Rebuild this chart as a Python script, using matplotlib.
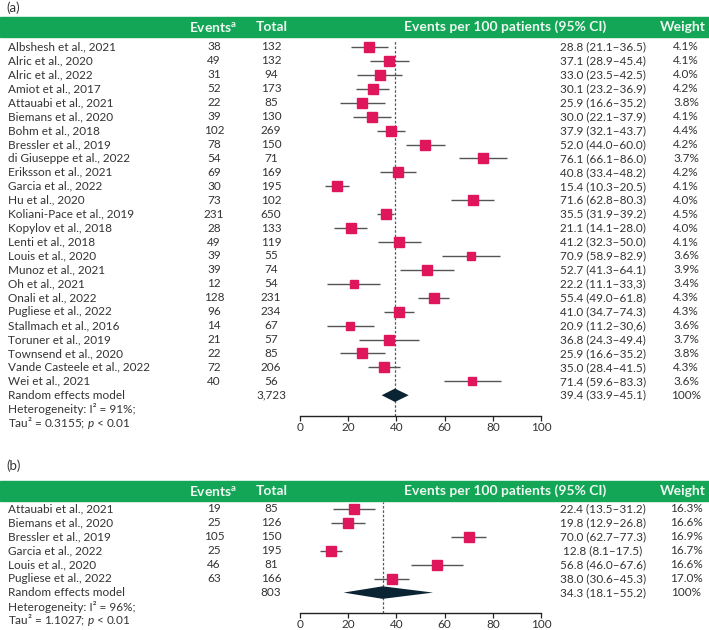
import matplotlib
matplotlib.use("Agg")
import matplotlib.pyplot as plt
import matplotlib.transforms as mtransforms
from matplotlib.patches import Rectangle
import numpy as np

plt.rcParams['font.family'] = ['Lato', 'DejaVu Sans']
plt.rcParams['mathtext.fontset'] = 'custom'
plt.rcParams['mathtext.rm'] = 'Lato'
plt.rcParams['mathtext.it'] = 'Lato:italic'
plt.rcParams['mathtext.bf'] = 'Lato:bold'

# ---- panel (a) data ----
studies_a = ["Albshesh et al., 2021", "Alric et al., 2020", "Alric et al., 2022",
             "Amiot et al., 2017", "Attauabi et al., 2021", "Biemans et al., 2020",
             "Bohm et al., 2018", "Bressler et al., 2019", "di Giuseppe et al., 2022",
             "Eriksson et al., 2021", "Garcia et al., 2022", "Hu et al., 2020",
             "Koliani-Pace et al., 2019", "Kopylov et al., 2018", "Lenti et al., 2018",
             "Louis et al., 2020", "Munoz et al., 2021", "Oh et al., 2021",
             "Onali et al., 2022", "Pugliese et al., 2022", "Stallmach et al., 2016",
             "Toruner et al., 2019", "Townsend et al., 2020", "Vande Casteele et al., 2022",
             "Wei et al., 2021"]
events_a = [38, 49, 31, 52, 22, 39, 102, 78, 54, 69, 30, 73, 231, 28, 49, 39, 39, 12,
            128, 96, 14, 21, 22, 72, 40]
total_a = [132, 132, 94, 173, 85, 130, 269, 150, 71, 169, 195, 102, 650, 133, 119, 55,
           74, 54, 231, 234, 67, 57, 85, 206, 56]
est_a = [28.8, 37.1, 33.0, 30.1, 25.9, 30.0, 37.9, 52.0, 76.1, 40.8, 15.4, 71.6, 35.5,
         21.1, 41.2, 70.9, 52.7, 22.2, 55.4, 41.0, 20.9, 36.8, 25.9, 35.0, 71.4]
lo_a = [21.1, 28.9, 23.5, 23.2, 16.6, 22.1, 32.1, 44.0, 66.1, 33.4, 10.3, 62.8, 31.9,
        14.1, 32.3, 58.9, 41.3, 11.1, 49.0, 34.7, 11.2, 24.3, 16.6, 28.4, 59.6]
hi_a = [36.5, 45.4, 42.5, 36.9, 35.2, 37.9, 43.7, 60.0, 86.0, 48.2, 20.5, 80.3, 39.2,
        28.0, 50.0, 82.9, 64.1, 33.3, 61.8, 47.3, 30.6, 49.4, 35.2, 41.5, 83.3]
ci_text_a = ["28.8 (21.1–36.5)", "37.1 (28.9–45.4)", "33.0 (23.5–42.5)", "30.1 (23.2–36.9)",
             "25.9 (16.6–35.2)", "30.0 (22.1–37.9)", "37.9 (32.1–43.7)", "52.0 (44.0–60.0)",
             "76.1 (66.1–86.0)", "40.8 (33.4–48.2)", "15.4 (10.3–20.5)", "71.6 (62.8–80.3)",
             "35.5 (31.9–39.2)", "21.1 (14.1–28.0)", "41.2 (32.3–50.0)", "70.9 (58.9–82.9)",
             "52.7 (41.3–64.1)", "22.2 (11.1–33,3)", "55.4 (49.0–61.8)", "41.0 (34.7–74.3)",
             "20.9 (11.2–30,6)", "36.8 (24.3–49.4)", "25.9 (16.6–35.2)", "35.0 (28.4–41.5)",
             "71.4 (59.6–83.3)"]
weight_a = [4.1, 4.1, 4.0, 4.2, 3.8, 4.1, 4.4, 4.2, 3.7, 4.2, 4.1, 4.0, 4.5, 4.0, 4.1,
            3.6, 3.9, 3.4, 4.3, 4.3, 3.6, 3.7, 3.8, 4.3, 3.6]
pooled_a = (39.4, 33.9, 45.1)
pooled_total_a = "3,723"
pooled_text_a = "39.4 (33.9–45.1)"
het_a = ["Heterogeneity: I² = 91%;", "Tau² = 0.3155; $p$ < 0.01"]

# ---- panel (b) data ----
studies_b = ["Attauabi et al., 2021", "Biemans et al., 2020", "Bressler et al., 2019",
             "Garcia et al., 2022", "Louis et al., 2020", "Pugliese et al., 2022"]
events_b = [19, 25, 105, 25, 46, 63]
total_b = [85, 126, 150, 195, 81, 166]
est_b = [22.4, 19.8, 70.0, 12.8, 56.8, 38.0]
lo_b = [13.5, 12.9, 62.7, 8.1, 46.0, 30.6]
hi_b = [31.2, 26.8, 77.3, 17.5, 67.6, 45.3]
ci_text_b = ["22.4 (13.5–31.2)", "19.8 (12.9–26.8)", "70.0 (62.7–77.3)",
             "12.8 (8.1–17.5)", "56.8 (46.0–67.6)", "38.0 (30.6–45.3)"]
weight_b = [16.3, 16.6, 16.9, 16.7, 16.6, 17.0]
pooled_b = (34.3, 18.1, 55.2)
pooled_total_b = "803"
pooled_text_b = "34.3 (18.1–55.2)"
het_b = ["Heterogeneity: I² = 96%;", "Tau² = 1.1027; $p$ < 0.01"]

ticks = [0, 20, 40, 60, 80, 100]

W, H = 709, 630
GREEN = '#12a656'
PINK = '#e0165c'
NAVY = '#0b2433'
TXT = '#333333'
FS = 8.5

fig = plt.figure(figsize=(W / 100, H / 100), dpi=100)


def fx(px):
    return px / W


def fy(py):
    return 1 - py / H


def panel(label, label_y, bar_top, ax_top, ax_bot, studies, events, total, est, lo, hi,
          ci_text, weight, pooled, pooled_total, pooled_text, het, diamond_h, msize):
    n = len(studies)
    row0 = ax_top + 7
    step = 13.93
    # data y limits so that row i sits at row0 + i*step pixels
    y_top = (ax_top - row0) / step
    y_bot = (ax_bot - row0) / step
    ax = fig.add_axes([fx(300), fy(ax_bot), fx(541) - fx(300), (ax_bot - ax_top) / H])
    ax.set_xlim(0, 100)
    ax.set_ylim(y_bot, y_top)
    ax.patch.set_alpha(0)
    for s in ['top', 'right', 'left']:
        ax.spines[s].set_visible(False)
    ax.spines['bottom'].set_color('#222222')
    ax.spines['bottom'].set_linewidth(1.0)
    ax.set_yticks([])
    ax.set_xticks(ticks)
    ax.tick_params(axis='x', length=3.5, width=0.9, color='#222222', labelsize=FS,
                   labelcolor=TXT, pad=0.5)

    rows = np.arange(n)
    ax.hlines(rows, lo, hi, color='#555555', lw=1.0, zorder=2)
    wmax = max(weight)
    for r, e, w in zip(rows, est, weight):
        ax.plot(e, r, marker='s', ms=msize * np.sqrt(w / wmax), color=PINK,
                mec=PINK, zorder=3)
    ax.axvline(pooled[0], color='#4a5a6a', lw=0.9, ls=(0, (2, 1.5)), zorder=1)
    ax.fill([pooled[1], pooled[0], pooled[2], pooled[0]],
            [n, n - diamond_h, n, n + diamond_h], color=NAVY, zorder=4, lw=0)

    tr = mtransforms.blended_transform_factory(fig.transFigure, ax.transData)
    kw = dict(transform=tr, va='center', fontsize=FS, color=TXT)
    for r in rows:
        fig.text(fx(8), r, studies[r], ha='left', **kw)
        fig.text(fx(214), r, str(events[r]), ha='center', **kw)
        fig.text(fx(271), r, str(total[r]), ha='center', **kw)
        fig.text(fx(603), r, ci_text[r], ha='center', **kw)
        fig.text(fx(686), r, f"{weight[r]:.1f}%", ha='center', **kw)
    fig.text(fx(8), n, "Random effects model", ha='left', **kw)
    fig.text(fx(271), n, pooled_total, ha='center', **kw)
    fig.text(fx(603), n, pooled_text, ha='center', **kw)
    fig.text(fx(686), n, "100%", ha='center', **kw)
    fig.text(fx(8), n + 1, het[0], ha='left', **kw)
    fig.text(fx(8), n + 2, het[1], ha='left', **kw)

    # header bar and panel label
    fig.patches.append(Rectangle((0, fy(bar_top + 20)), 1, 20 / H, transform=fig.transFigure,
                                 color=GREEN, zorder=0))
    hy = fy(bar_top + 10)
    hkw = dict(va='center', ha='center', fontsize=10, color='#eef8f1', fontweight='bold')
    fig.text(fx(213), hy, r"Events$^\mathbf{a}$", **hkw)
    fig.text(fx(272), hy, "Total", **hkw)
    fig.text(fx(505), hy, "Events per 100 patients (95% CI)", **hkw)
    fig.text(fx(683), hy, "Weight", **hkw)
    fig.text(fx(6), fy(label_y), label, va='center', ha='left', fontsize=9.5, color=TXT)
    return ax


panel("(a)", 8, 17, 40, 416, studies_a, events_a, total_a, est_a, lo_a, hi_a, ci_text_a,
      weight_a, pooled_a, pooled_total_a, pooled_text_a, het_a, 0.48, 7.2)
panel("(b)", 466, 481, 502, 613, studies_b, events_b, total_b, est_b, lo_b, hi_b, ci_text_b,
      weight_b, pooled_b, pooled_total_b, pooled_text_b, het_b, 0.45, 7.6)

fig.savefig("out.png", dpi=100)
